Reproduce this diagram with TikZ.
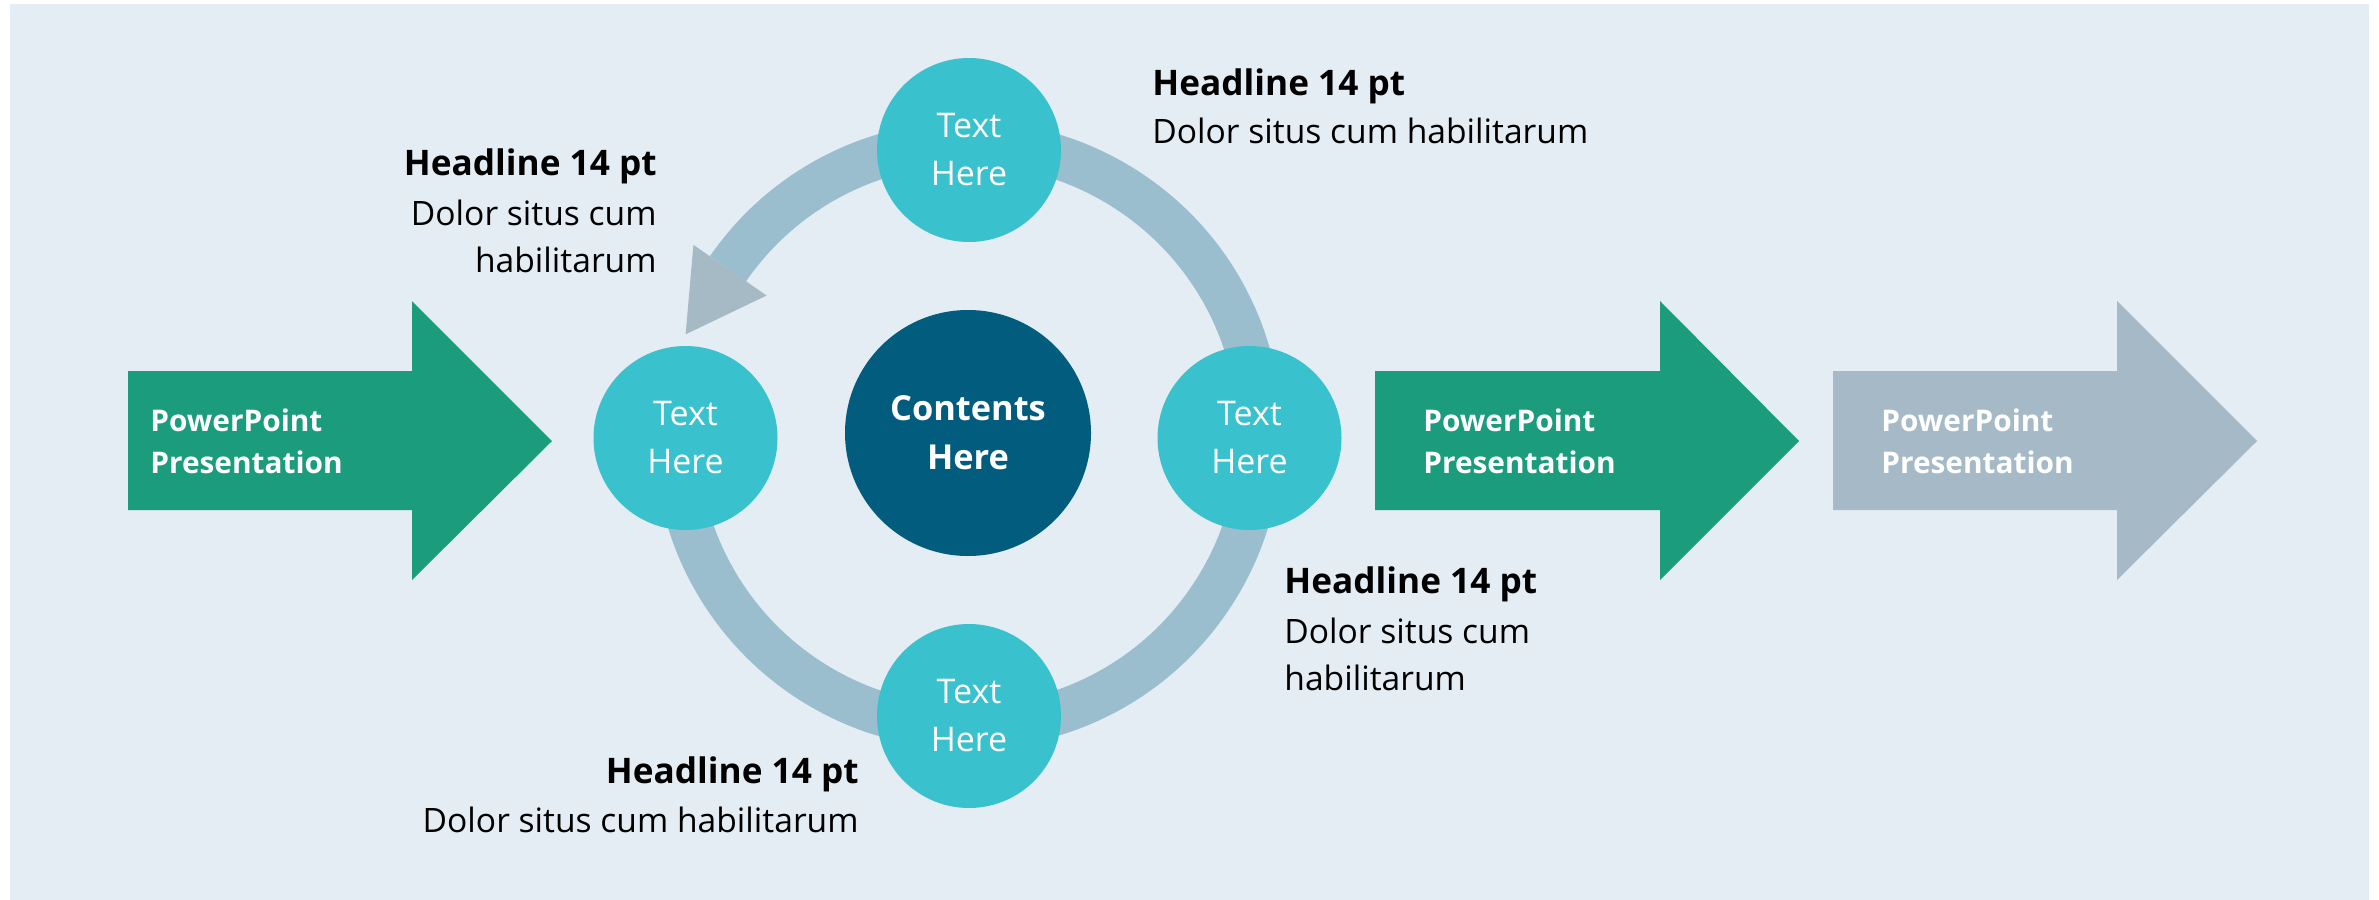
\documentclass[tikz,border=0pt]{standalone}
\usepackage{fontspec}
\setmainfont{Open Sans}
\usetikzlibrary{calc}
\definecolor{bgc}{HTML}{E4EDF3}
\definecolor{greenc}{HTML}{1A9C7D}
\definecolor{greyc}{HTML}{A5BAC6}
\definecolor{ringc}{HTML}{9BBECE}
\definecolor{headc}{HTML}{A6BAC6}
\definecolor{cyanc}{HTML}{3AC1CE}
\definecolor{darkc}{HTML}{025C7E}
\tikzset{
  smallc/.style={circle, fill=cyanc, minimum size=92pt, inner sep=0pt, text=white, align=center,
    font=\fontsize{17pt}{24pt}\selectfont},
  bigc/.style={circle, fill=darkc, minimum size=123pt, inner sep=0pt, text=white, align=center,
    font=\fontsize{17.2pt}{24.5pt}\selectfont\bfseries},
  arrowtxt/.style={inner sep=0pt, text=white, align=left, anchor=west,
    font=\fontsize{14.9pt}{21pt}\selectfont\bfseries},
  headtxt/.style={inner sep=0pt, text=black, font=\fontsize{17.6pt}{21pt}\selectfont\bfseries},
  bodytxt/.style={inner sep=0pt, text=black, font=\fontsize{16.8pt}{24pt}\selectfont},
}
\begin{document}
\begin{tikzpicture}[x=0.5pt,y=-0.5pt]
\useasboundingbox (0,0) rectangle (2379,900);
\fill[white] (0,0) rectangle (2379,900);
\fill[bgc] (10,4) rectangle (2369,900);

% block arrows
\fill[greenc] (128,371) -- (412,371) -- (412,301) -- (552,441) -- (412,580) -- (412,510) -- (128,510) -- cycle;
\fill[greenc] (1375,371) -- (1660,371) -- (1660,301) -- (1799,441) -- (1660,580) -- (1660,510) -- (1375,510) -- cycle;
\fill[greyc] (1833,371) -- (2117,371) -- (2117,301) -- (2257,441) -- (2117,580) -- (2117,510) -- (1833,510) -- cycle;
\node[arrowtxt] (a1) at (150,441) {PowerPoint\\Presentation};
\node[arrowtxt] (a2) at (1423,441) {PowerPoint\\Presentation};
\node[arrowtxt] (a3) at (1881,441) {PowerPoint\\Presentation};

% ring with arrowhead
\coordinate (ring) at (968,435);
\draw[ringc, line width=22pt] ($(ring)+(145.3:146pt)$) arc[start angle=145.3, end angle=-185, radius=146pt];
\fill[headc] ($(ring)+(145.3:122.5pt)$) -- ($(ring)+(145.3:167pt)$) -- ($(ring)+(145.3:144.75pt)+(235.3:39pt)$) -- cycle;

% circles
\node[smallc] (ctop) at (969,150) {Text\\Here};
\node[smallc] (cleft) at (685.5,438) {Text\\Here};
\node[smallc] (cright) at (1249.5,438) {Text\\Here};
\node[smallc] (cbot) at (969,716) {Text\\Here};
\node[bigc] (cmid) at (968,433) {Contents\\Here};

% text blocks
\node[headtxt, anchor=base east] (h1) at (657,175) {Headline 14 pt};
\node[bodytxt, anchor=base east] (b1a) at (657,225) {Dolor situs cum};
\node[bodytxt, anchor=base east] (b1b) at (657,272) {habilitarum};

\node[headtxt, anchor=base west] (h2) at (1152,95) {Headline 14 pt};
\node[bodytxt, anchor=base west] (b2) at (1152,143) {Dolor situs cum habilitarum};

\node[headtxt, anchor=base west] (h3) at (1284,593) {Headline 14 pt};
\node[bodytxt, anchor=base west] (b3a) at (1284,643) {Dolor situs cum};
\node[bodytxt, anchor=base west] (b3b) at (1284,690) {habilitarum};

\node[headtxt, anchor=base east] (h4) at (859,783) {Headline 14 pt};
\node[bodytxt, anchor=base east] (b4) at (859,832) {Dolor situs cum habilitarum};
\end{tikzpicture}
\end{document}
